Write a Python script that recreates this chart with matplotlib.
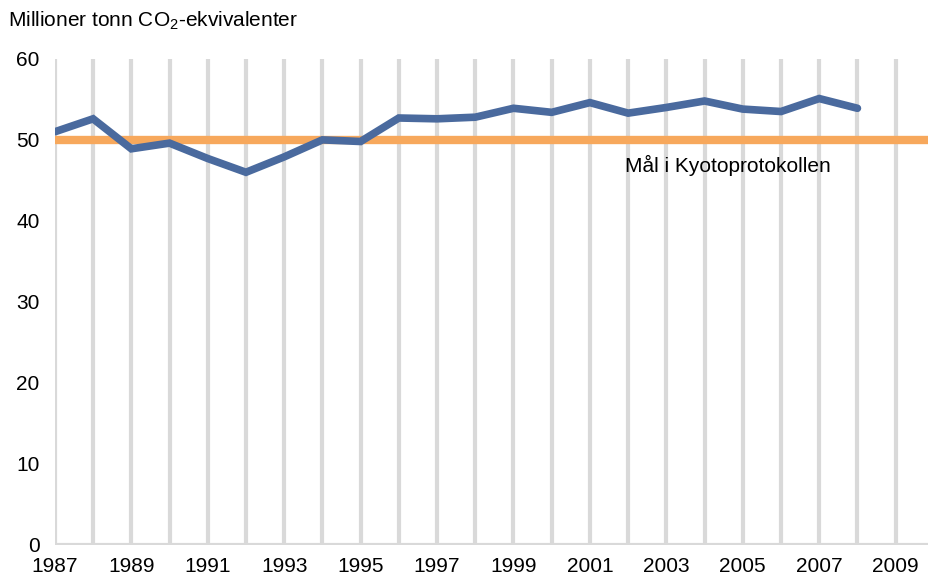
import matplotlib
matplotlib.use("Agg")
import matplotlib.pyplot as plt

years = [1987, 1988, 1989, 1990, 1991, 1992, 1993, 1994, 1995, 1996, 1997,
         1998, 1999, 2000, 2001, 2002, 2003, 2004, 2005, 2006, 2007, 2008]
emissions = [51.0, 52.6, 48.9, 49.6, 47.7, 46.0, 47.9, 50.0, 49.8, 52.7, 52.6,
             52.8, 53.9, 53.4, 54.6, 53.3, 54.0, 54.8, 53.8, 53.5, 55.1, 53.9]
kyoto_target = 50
grid_years = list(range(1987, 2010))
tick_years = list(range(1987, 2010, 2))
y_ticks = [0, 10, 20, 30, 40, 50, 60]

plt.rcParams['font.family'] = ['Liberation Sans', 'DejaVu Sans']
plt.rcParams['mathtext.fontset'] = 'custom'
plt.rcParams['mathtext.rm'] = 'Liberation Sans'
plt.rcParams['mathtext.it'] = 'Liberation Sans'
plt.rcParams['mathtext.default'] = 'rm'

fig = plt.figure(figsize=(9.30, 5.77), dpi=100)
ax = fig.add_axes([0.059, 0.0555, 0.939, 0.8425])

grid_color = '#d9d9d9'
for gy in grid_years:
    ax.axvline(gy, color=grid_color, lw=3.0, zorder=1)
ax.axhline(0, color=grid_color, lw=3.0, zorder=1)

ax.axhline(kyoto_target, color='#f7a85c', lw=6, zorder=2)
ax.plot(years, emissions, color='#4a6a9e', lw=5.5, zorder=3,
        solid_joinstyle='miter', solid_capstyle='round')

ax.set_xlim(1987, 2009.85)
ax.set_ylim(0, 60)
ax.set_xticks(tick_years)
ax.set_xticklabels([str(y) for y in tick_years])
ax.set_yticks(y_ticks)
ax.tick_params(axis='both', length=0, labelsize=15)
ax.tick_params(axis='x', pad=9)
ax.tick_params(axis='y', pad=11)
for s in ax.spines.values():
    s.set_visible(False)

ax.text(2004.6, 46.9, 'Mål i Kyotoprotokollen', fontsize=15, ha='center', va='center')
fig.text(0.009, 0.963, 'Millioner tonn CO$_2$-ekvivalenter', fontsize=15, ha='left', va='center')

fig.savefig('out.png', dpi=100)
